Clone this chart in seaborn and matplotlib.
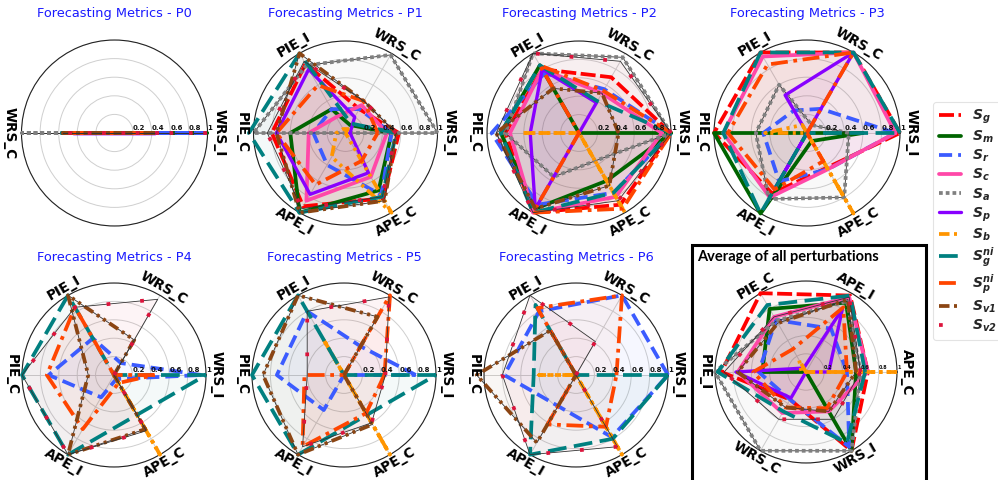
import numpy as np
import matplotlib
matplotlib.use("Agg")
import matplotlib.pyplot as plt
import seaborn as sns
from matplotlib.lines import Line2D
from matplotlib.patches import Rectangle
from matplotlib.transforms import offset_copy

sns.set_theme(style="white")
plt.rcParams["font.family"] = ["DejaVu Sans"]
plt.rcParams["mathtext.fontset"] = "custom"
plt.rcParams["mathtext.bf"] = "DejaVu Sans:bold:italic"
plt.rcParams["mathtext.it"] = "DejaVu Sans:italic"
plt.rcParams["mathtext.rm"] = "DejaVu Sans"

# ---------------- data ----------------
strategies = ["S_g", "S_m", "S_r", "S_c", "S_a", "S_p", "S_b", "S_gni", "S_pni", "S_v1", "S_v2"]
legend_labels = [r"$\mathbf{S_g}$", r"$\mathbf{S_m}$", r"$\mathbf{S_r}$", r"$\mathbf{S_c}$",
                 r"$\mathbf{S_a}$", r"$\mathbf{S_p}$", r"$\mathbf{S_b}$", r"$\mathbf{S_g^{ni}}$",
                 r"$\mathbf{S_p^{ni}}$", r"$\mathbf{S_{v1}}$", r"$\mathbf{S_{v2}}$"]

metrics = ["WRS_I", "WRS_C", "PIE_I", "PIE_C", "APE_I", "APE_C"]
metrics_p0 = ["WRS_I", "WRS_C"]
metrics_avg = ["APE_C", "APE_I", "PIE_C", "PIE_I", "WRS_C", "WRS_I"]

p0_vals = {
    "S_g": [1.0, 0.5], "S_m": [1.0, 0.5], "S_r": [1.0, 0.5], "S_c": [0.44, 0.5],
    "S_a": [0.4, 1.0], "S_p": [0.44, 0.45], "S_b": [0.3, 0.3], "S_gni": [0.44, 0.56],
    "S_pni": [0.44, 0.55], "S_v1": [0.44, 0.55], "S_v2": [1.0, 0.55],
}
p1_vals = {
    "S_g": [0.58, 0.3, 0.87, 0.8, 0.92, 0.82],
    "S_m": [0.5, 0.1, 0.3, 0.6, 1.0, 0.72],
    "S_r": [0.5, 0.3, 0.3, 0.35, 0.4, 0.78],
    "S_c": [0.45, 0.35, 0.2, 0.4, 0.85, 0.55],
    "S_a": [1.0, 0.98, 0.85, 1.0, 0.0, 0.0],
    "S_p": [0.05, 0.2, 0.8, 0.75, 0.77, 0.5],
    "S_b": [0.0, 0.05, 0.05, 0.1, 0.3, 1.0],
    "S_gni": [0.55, 0.12, 1.0, 1.05, 1.0, 0.8],
    "S_pni": [0.35, 0.4, 0.6, 0.75, 0.65, 0.35],
    "S_v1": [0.55, 0.4, 1.0, 0.75, 1.0, 0.85],
    "S_v2": [0.55, 0.4, 0.9, 0.85, 0.95, 0.8],
}
p2_vals = {
    "S_g": [1.0, 0.7, 0.8, 0.8, 1.0, 0.9],
    "S_m": [1.0, 0.0, 0.85, 0.85, 0.95, 0.6],
    "S_r": [1.0, 0.55, 0.75, 0.95, 0.9, 0.75],
    "S_c": [0.9, 0.5, 0.8, 0.75, 1.0, 0.8],
    "S_a": [1.0, 0.95, 1.0, 0.8, 0.55, 0.35],
    "S_p": [0.0, 0.38, 0.8, 0.53, 0.95, 0.0],
    "S_b": [0.0, 0.0, 0.0, 0.62, 0.0, 1.0],
    "S_gni": [1.0, 0.4, 0.85, 0.85, 1.0, 0.75],
    "S_pni": [1.0, 0.53, 0.85, 0.0, 1.0, 0.95],
    "S_v1": [0.43, 0.5, 0.56, 0.9, 0.95, 0.66],
    "S_v2": [1.0, 0.9, 1.0, 0.9, 1.0, 0.85],
}
p3_vals = {
    "S_g": [1.0, 1.0, 1.0, 1.0, 0.75, 0.43],
    "S_m": [0.6, 0.0, 0.0, 1.0, 1.0, 0.1],
    "S_r": [0.95, 0.3, 0.28, 0.47, 0.6, 0.45],
    "S_c": [0.95, 1.0, 0.95, 0.9, 0.8, 0.45],
    "S_a": [0.45, 0.1, 0.6, 0.55, 0.82, 0.8],
    "S_p": [0.0, 1.0, 0.47, 0.0, 0.7, 0.0],
    "S_b": [0.0, 0.0, 0.1, 0.45, 0.0, 1.0],
    "S_gni": [1.0, 1.0, 1.0, 0.9, 1.0, 0.0],
    "S_pni": [0.0, 1.0, 0.85, 0.85, 0.7, 0.35],
}
p4_vals = {
    "S_r": [0.95, 0.15, 0.46, 0.71, 0.28, 0.05],
    "S_b": [0.0, 0.0, 0.0, 0.0, 0.0, 1.0],
    "S_gni": [1.0, 0.0, 1.0, 1.0, 1.0, 0.5],
    "S_pni": [0.44, 0.0, 0.85, 0.73, 0.68, 0.1],
    "S_v1": [0.0, 0.44, 1.0, 0.28, 1.0, 0.68],
    "S_v2": [0.0, 0.95, 0.85, 1.0, 1.0, 0.7],
}
p5_vals = {
    "S_r": [0.78, 0.36, 0.8, 0.73, 0.44, 0.0],
    "S_b": [0.0, 0.0, 0.45, 0.0, 0.0, 1.0],
    "S_gni": [1.0, 0.0, 1.0, 1.0, 1.0, 0.5],
    "S_pni": [0.44, 1.0, 0.0, 0.43, 0.9, 0.48],
    "S_v1": [0.0, 0.73, 1.0, 0.88, 1.0, 0.62],
    "S_v2": [0.45, 0.98, 0.8, 0.4, 0.9, 0.6],
}
p6_vals = {
    "S_r": [1.0, 1.0, 0.8, 0.78, 0.39, 0.78],
    "S_b": [0.0, 0.0, 0.0, 0.4, 0.0, 1.0],
    "S_gni": [1.0, 0.0, 0.88, 0.46, 1.0, 0.8],
    "S_pni": [0.44, 1.0, 0.84, 0.0, 0.62, 0.65],
    "S_v1": [0.0, 0.0, 0.56, 1.08, 0.85, 0.0],
    "S_v2": [0.0, 0.42, 1.0, 0.8, 1.0, 0.9],
}
avg_vals = {
    "S_g": [0.68, 0.97, 1.0, 0.93, 0.35, 1.0],
    "S_m": [0.55, 0.88, 0.8, 0.48, 0.0, 1.0],
    "S_r": [0.45, 0.55, 0.66, 0.52, 0.35, 0.95],
    "S_c": [0.68, 0.95, 0.7, 0.75, 0.52, 0.5],
    "S_a": [0.6, 0.9, 0.65, 1.0, 1.0, 1.0],
    "S_p": [0.25, 0.8, 0.05, 0.77, 0.33, 0.0],
    "S_b": [1.0, 0.0, 0.15, 0.05, 0.0, 0.0],
    "S_gni": [0.65, 0.97, 0.85, 0.97, 0.5, 0.9],
    "S_pni": [0.45, 0.82, 0.29, 0.58, 0.45, 0.46],
    "S_v1": [0.55, 0.92, 0.62, 0.75, 0.45, 0.5],
    "S_v2": [0.6, 0.95, 0.7, 0.9, 0.6, 0.6],
}
r_ticks = [0.2, 0.4, 0.6, 0.8, 1.0]
r_tick_labels = ["0.2", "0.4", "0.6", "0.8", "1"]

# ---------------- styles ----------------
palette = sns.color_palette(["#FF0000", "#006400", "#3B5BFF", "#FF48A8", "#808080", "#8800FF",
                             "#FF9500", "#008080", "#FF4500", "#8B4513", "#DC143C"])
dash_styles = {
    "S_g": (0, (4, 1.2)), "S_m": "-", "S_r": (0, (3.5, 1.6)), "S_c": "-",
    "S_a": (0, (1, 0.8)), "S_p": "-", "S_b": (0, (2.8, 1.2, 0.8, 1.2, 0.8, 1.2)),
    "S_gni": (0, (5, 2)), "S_pni": (0, (4.5, 1.5, 1, 1.5)),
    "S_v1": (0, (2.8, 1.2, 0.8, 1.2, 0.8, 1.2)), "S_v2": (0, (1, 8)),
}
widths = {k: 2.7 for k in strategies}
widths["S_p"] = 2.4
colors = dict(zip(strategies, palette))

W, H = 998, 480
fig = plt.figure(figsize=(W / 100, H / 100), dpi=100)


def polar_axes(cx, cy, R):
    return fig.add_axes([(cx - R) / W, 1 - (cy + R) / H, 2 * R / W, 2 * R / H], projection="polar")


def radar(ax, cats, values, tick_size=5, label_r=1.11):
    n = len(cats)
    ang = np.arange(n) * 2 * np.pi / n
    for key in strategies:
        vals = values.get(key)
        if vals is None:
            continue
        a = np.append(ang, ang[0])
        v = np.append(vals, vals[0])
        ax.fill(a, v, color=colors[key], alpha=0.045, zorder=1, lw=0)
        if key in ("S_a", "S_v1", "S_v2"):
            ax.plot(a, v, color="#333333", lw=0.6, zorder=3, clip_on=False)
        ax.plot(a, v, color=colors[key], ls=dash_styles[key], lw=widths[key],
                zorder=3, clip_on=False)
    ax.set_ylim(0, 1)
    ax.set_xticks(ang)
    ax.set_xticklabels([])
    ax.set_yticks(r_ticks)
    ax.set_yticklabels([])
    ax.grid(True, color="#cfcfcf", lw=0.7)
    ax.spines["polar"].set_color("#222222")
    ax.spines["polar"].set_linewidth(0.8)
    ax.set_facecolor("white")
    tr = offset_copy(ax.transData, fig=fig, x=0, y=3.5, units="points")
    for r, lab in zip(r_ticks, r_tick_labels):
        ax.text(0, r, lab, transform=tr, ha="left", va="center", fontsize=tick_size,
                fontweight="bold", color="#111111", zorder=10)
    for a, c in zip(ang, cats):
        rot = np.degrees(a) - 90
        while rot >= 90:
            rot -= 180
        while rot < -90:
            rot += 180
        # side labels sit a little further out than the slanted ones
        dist = label_r + 0.02 if abs(np.cos(a)) > 0.99 else label_r
        ax.text(a, dist, c, rotation=rot, rotation_mode="anchor", ha="center", va="center",
                fontsize=9.8, fontweight="bold", color="black")


panels = [
    ("Forecasting Metrics - P0", metrics_p0, p0_vals, 114.5, 133, 93, 13),
    ("Forecasting Metrics - P1", metrics, p1_vals, 345.5, 133, 92, 13),
    ("Forecasting Metrics - P2", metrics, p2_vals, 579, 133, 92, 13),
    ("Forecasting Metrics - P3", metrics, p3_vals, 807, 133, 93, 13),
    ("Forecasting Metrics - P4", metrics, p4_vals, 114, 375, 92, 257),
    ("Forecasting Metrics - P5", metrics, p5_vals, 344, 375, 92, 257),
    ("Forecasting Metrics - P6", metrics, p6_vals, 576, 375, 92, 257),
]
for title, cats, vals, cx, cy, R, ty in panels:
    ax = polar_axes(cx, cy, R)
    radar(ax, cats, vals, label_r=1.11 if cy < 200 else 1.09)
    fig.text(cx / W, 1 - ty / H, title, ha="center", va="center", color="#1a1aff", fontsize=9.3)

ax_avg = polar_axes(806, 372, 91)
radar(ax_avg, metrics_avg, avg_vals, tick_size=3.5, label_r=1.09)
fig.add_artist(Rectangle((692 / W, -0.02), (926 - 692) / W, (1 - 245 / H) + 0.02,
                         transform=fig.transFigure, fill=False, edgecolor="black", lw=2.2))
fig.text(697 / W, 1 - 257 / H, "Average of all perturbations", ha="left", va="center",
         fontsize=10.5, fontweight="bold", family=["Lato", "DejaVu Sans"], color="black")

handles = [Line2D([], [], color=colors[k], ls=dash_styles[k], lw=widths[k]) for k in strategies]
leg = fig.legend(handles, legend_labels, loc="upper left", bbox_to_anchor=(933 / W, 1 - 102 / H),
                 frameon=True, fontsize=10, handlelength=1.6, handletextpad=0.8,
                 labelspacing=0.2, borderpad=0.4, borderaxespad=0, fancybox=True)
leg.get_frame().set_edgecolor("#dddddd")
leg.get_frame().set_linewidth(0.8)

fig.savefig("out.png", dpi=100)
